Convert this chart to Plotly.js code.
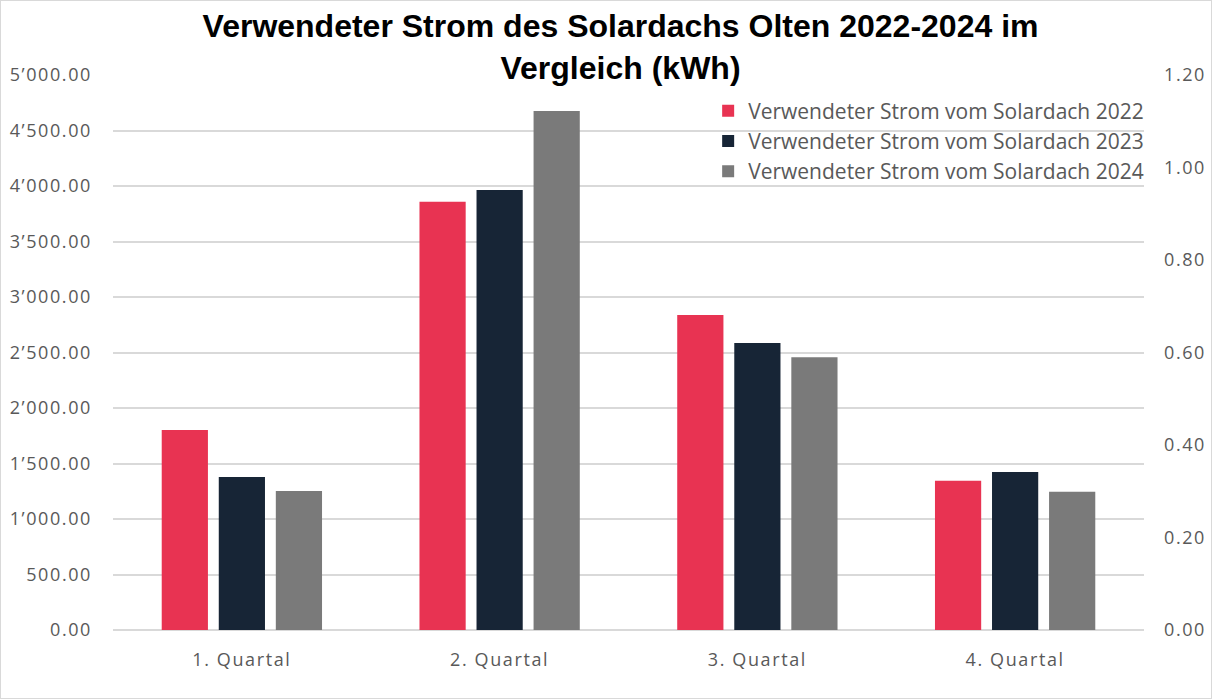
<!DOCTYPE html>
<html>
<head>
<meta charset="utf-8">
<script src="https://cdn.plot.ly/plotly-3.0.1.min.js"></script>
<style>
html,body{margin:0;padding:0;background:#fff;}
#chart{width:1212px;height:699px;box-sizing:border-box;border:1px solid #d9d9d9;}
#chart .xtick text, #chart .ytick text, #chart .y2tick text{letter-spacing:1.6px;}
</style>
</head>
<body>
<div id="chart"></div>
<script>
const categories = ["1. Quartal", "2. Quartal", "3. Quartal", "4. Quartal"];
const seriesNames = ["Verwendeter Strom vom Solardach 2022", "Verwendeter Strom vom Solardach 2023", "Verwendeter Strom vom Solardach 2024"];
const values2022 = [1802, 3859, 2838, 1345];
const values2023 = [1378, 3964, 2586, 1423];
const values2024 = [1252, 4676, 2457, 1246];
const colors = ["#E83352", "#172536", "#7A7A7A"];

const allValues = [values2022, values2023, values2024];
const data = allValues.map((v, i) => ({
  type: "bar",
  name: seriesNames[i],
  x: categories,
  y: v,
  marker: {color: colors[i]},
  hoverinfo: "y"
}));
// invisible trace to show the secondary axis
data.push({type: "scatter", x: [categories[0]], y: [null], yaxis: "y2", showlegend: false, hoverinfo: "skip", mode: "markers"});

const tickFont = {family: "Open Sans, sans-serif", size: 18, color: "#595959"};

const layout = {
  width: 1210,
  height: 697,
  margin: {l: 112, r: 67, t: 74, b: 68},
  paper_bgcolor: "#fff",
  plot_bgcolor: "#fff",
  separators: ".’",
  title: {
    text: "Verwendeter Strom des Solardachs Olten 2022-2024 im<br>Vergleich (kWh)",
    font: {family: "Liberation Sans, Arial, sans-serif", size: 32, color: "#000", weight: "bold"},
    x: 0.512, xanchor: "center",
    y: 0.948, yanchor: "top"
  },
  barmode: "group",
  bargap: 0.336,
  bargroupgap: 0.19,
  xaxis: {
    type: "category",
    tickfont: tickFont,
    showgrid: false,
    showline: false,
    ticks: "",
    ticklabelstandoff: 17,
    zeroline: false
  },
  yaxis: {
    range: [0, 5000],
    dtick: 500,
    tick0: 0,
    tickformat: ",.2f",
    tickfont: tickFont,
    gridcolor: "#D9D9D9",
    gridwidth: 1.5,
    zeroline: true,
    zerolinecolor: "#D9D9D9",
    zerolinewidth: 1.5,
    showline: false,
    ticks: "",
    ticklabelstandoff: 20
  },
  yaxis2: {
    overlaying: "y",
    side: "right",
    range: [0, 1.2],
    dtick: 0.2,
    tick0: 0,
    tickformat: ".2f",
    tickfont: tickFont,
    showgrid: false,
    zeroline: false,
    showline: false,
    ticks: "",
    ticklabelstandoff: 19
  },
  legend: {
    x: 1.005, xanchor: "right",
    y: 0.972, yanchor: "top",
    bgcolor: "rgba(0,0,0,0)",
    font: {family: "Open Sans, sans-serif", size: 21, color: "#595959"},
    itemwidth: 30,
    tracegroupgap: 0
  },
  showlegend: true
};

Plotly.newPlot("chart", data, layout, {displayModeBar: false, responsive: false});
</script>
</body>
</html>
